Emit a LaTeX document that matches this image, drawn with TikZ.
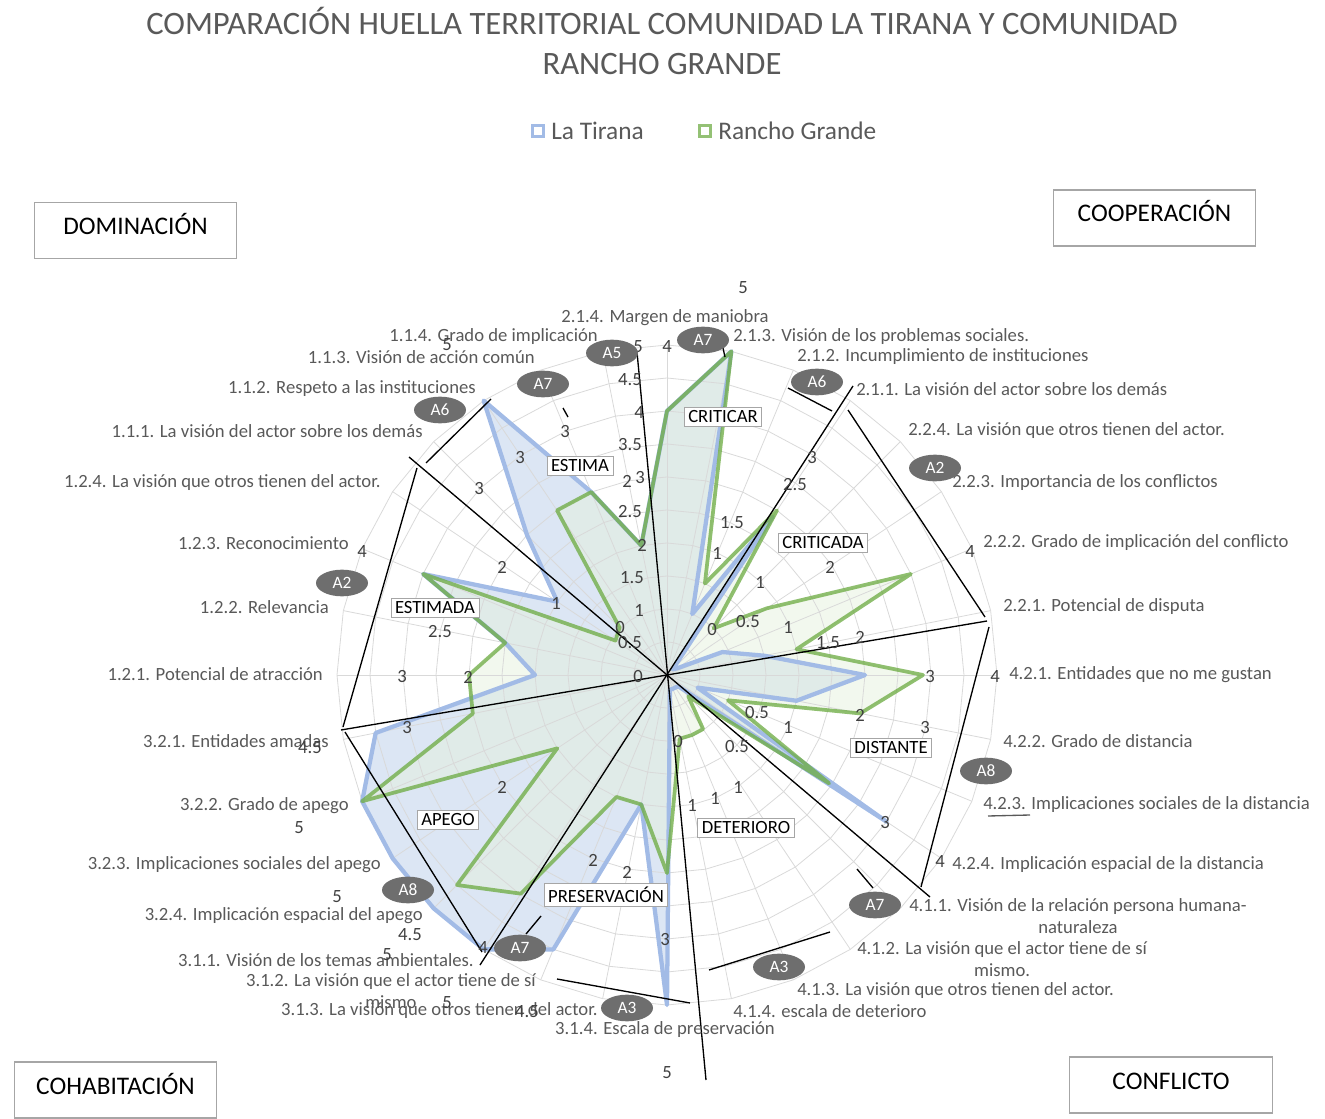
\documentclass[tikz,border=0pt]{standalone}
\usepackage{fontspec}
\setmainfont{Carlito}
\usetikzlibrary{shapes.geometric}
\definecolor{txtgray}{HTML}{595959}
\definecolor{numgray}{HTML}{404040}
\definecolor{gridgray}{HTML}{D9D9D9}
\definecolor{boxgray}{HTML}{A6A6A6}
\definecolor{tirana}{HTML}{A2BBE6}
\definecolor{tiranafill}{HTML}{DCE6F4}
\definecolor{rancho}{HTML}{70AD47}
\definecolor{ranchofill}{HTML}{E5F1DD}
\definecolor{ovalgray}{HTML}{6E6E6E}
\begin{document}
\begin{tikzpicture}[x=0.75pt,y=-0.75pt,font=\fontsize{14}{16.5}\selectfont,
	catlab/.style={text=txtgray,inner sep=0pt},
	numlab/.style={text=numgray,inner sep=0pt},
	quadbox/.style={draw=boxgray,line width=0.8pt,minimum width=152pt,minimum height=42pt,text height=12pt,text depth=6pt,font=\fontsize{19}{22}\selectfont},
	tagbox/.style={draw=boxgray,fill=white,line width=0.6pt,inner xsep=3pt,inner ysep=2.5pt},
	ovaltag/.style={ellipse,fill=ovalgray,text=white,minimum width=39pt,minimum height=20pt,inner sep=0pt,font=\fontsize{13}{15}\selectfont},
	frame/.style={black,line width=1pt},
	grid/.style={gridgray,line width=0.6pt}]
\useasboundingbox (0,0) rectangle (1325,1119);
\def\tiranadata{264,330,66,190,8,12,60,99,198,132,33,264,16,15,15,15,330,132,297,330,330,330,330,297,132,165,264,132,198,330,198,132}
\def\ranchodata{264,330,99,198,66,120,264,132,256,197,66,195,30,65,65,65,198,132,132,263,297,132,330,198,198,165,264,62,67,198,198,132}
% title and legend
\node[text=txtgray,font=\fontsize{24.5}{30}\selectfont,align=center] (title) at (662,41) {COMPARACIÓN HUELLA TERRITORIAL COMUNIDAD LA TIRANA Y COMUNIDAD\\RANCHO GRANDE};
\node[draw=tirana,line width=2.2pt,minimum size=8.5pt,inner sep=0pt] (sqT) at (538,131) {};
\node[text=txtgray,font=\fontsize{19}{22}\selectfont,anchor=west,inner sep=0pt] (legT) at (551,131) {La Tirana};
\node[draw=rancho!75,line width=2.2pt,minimum size=8.5pt,inner sep=0pt] (sqR) at (705,131) {};
\node[text=txtgray,font=\fontsize{19}{22}\selectfont,anchor=west,inner sep=0pt] (legR) at (718,131) {Rancho Grande};
% radar
\begin{scope}[shift={(667,675)}]
	\fill[tiranafill] (-90:264) \foreach \r [count=\k from 0] in \tiranadata { -- ({-90+11.25*\k}:\r) } -- cycle;
	\fill[ranchofill,fill opacity=0.5] (-90:264) \foreach \r [count=\k from 0] in \ranchodata { -- ({-90+11.25*\k}:\r) } -- cycle;
	\foreach \k in {1,...,10}
		\draw[grid] (-90:33*\k) \foreach \a in {1,...,31}{ -- ({-90+11.25*\a}:33*\k) } -- cycle;
	\foreach \a in {0,...,31}
		\draw[grid] (0,0) -- ({-90+11.25*\a}:330);
	\draw[tirana,line width=3.2pt,line join=round] (-90:264) \foreach \r [count=\k from 0] in \tiranadata { -- ({-90+11.25*\k}:\r) } -- cycle;
	\draw[rancho,draw opacity=0.78,line width=2.8pt,line join=round] (-90:264) \foreach \r [count=\k from 0] in \ranchodata { -- ({-90+11.25*\k}:\r) } -- cycle;
\end{scope}
% hand drawn lines
\draw[frame] (637,352) -- (706,1080);
\draw[frame] (341,730) -- (987,621);
\draw[frame] (409,457) -- (930,897);
\draw[frame] (853,386) -- (480,965);
\draw[frame] (491,399) -- (426,463);
\draw[frame] (417,468) -- (343,727);
\draw[frame] (345,732) -- (482,952);
\draw[frame] (541,916) -- (526,934);
\draw[frame] (557,979) -- (690,1003);
\draw[frame] (709,970) -- (830,932);
\draw[frame] (857,869) -- (873,888);
\draw[frame] (989,627) -- (921,887);
\draw[frame] (848,410) -- (985,617);
\draw[frame] (788,388) -- (832,411);
\draw[frame] (563,408) -- (568,417);
\draw[frame] (723,348) -- (725,357);
\draw[txtgray,line width=1pt] (988,816) -- (1030,815);
% category labels
\node[catlab] (c214) at (665,318) {2.1.4. Margen de maniobra};
\node[catlab] (c314) at (665,1030) {3.1.4. Escala de preservación};
\foreach \x/\y/\t [count=\i] in {733/337/2.1.3. Visión de los problemas sociales.,797/357/2.1.2. Incumplimiento de instituciones,856/389/2.1.1. La visión del actor sobre los demás,908/431/2.2.4. La visión que otros tienen del actor.,952/483/2.2.3. Importancia de los conflictos,983/543/2.2.2. Grado de implicación del conflicto,1003/607/2.2.1. Potencial de disputa,1009/675/4.2.1. Entidades que no me gustan,1003/741/4.2.2. Grado de distancia,983/805/4.2.3. Implicaciones sociales de la distancia,952/865/4.2.4. Implicación espacial de la distancia,797/991/4.1.3. La visión que otros tienen del actor.,733/1011/4.1.4. escala de deterioro}
	\node[catlab,anchor=west] (cr\i) at (\x,\y) {\t};
\node[catlab,anchor=west,align=center] (c411) at (909,916) {4.1.1. Visión de la relación persona humana-\\naturaleza};
\node[catlab,anchor=west,align=center] (c412) at (857,959) {4.1.2. La visión que el actor tiene de sí\\mismo.};
\foreach \x/\y/\t [count=\i] in {598/1011/3.1.3. La visión que otros tienen del actor.,474/960/3.1.1. Visión de los temas ambientales.,423/916/3.2.4. Implicación espacial del apego,381/865/3.2.3. Implicaciones sociales del apego,349/806/3.2.2. Grado de apego,329/741/3.2.1. Entidades amadas,323/674/1.2.1. Potencial de atracción,329/607/1.2.2. Relevancia,349/543/1.2.3. Reconocimiento,381/483/1.2.4. La visión que otros tienen del actor.,423/431/1.1.1. La visión del actor sobre los demás,476/389/1.1.2. Respeto a las instituciones,535/357/1.1.3. Visión de acción común,598/337/1.1.4. Grado de implicación}
	\node[catlab,anchor=east] (cl\i) at (\x,\y) {\t};
\node[catlab,anchor=east,align=center] (c312) at (536,991) {3.1.2. La visión que el actor tiene de sí\\mismo};
% axis numbers
\foreach \x/\y/\t [count=\i] in {638/347/5,630/380/4.5,639/413/4,630/445/3.5,627/481/2,640/478/3,630/512/2.5,642/545/2,632/578/1.5,639/610/1,620/628/0,630/643/0.5,
	743/288/5,667/347/4,447/345/5,565/432/3,520/458/3,479/489/3,502/567/2,362/552/4,556/603/1,440/632/2.5,402/677/3,468/677/2,407/728/3,502/787/2,638/677/0,
	310/748/4.5,299/828/5,337/897/5,410/935/4.5,387/955/5,447/1003/5,527/1012/4.5,593/860/2,627/872/2,665/940/3,667/1073/5,483/948/4,
	812/458/3,795/485/2.5,732/523/1.5,717/553/1,830/567/2,970/552/4,760/582/1,712/630/0,748/622/0.5,788/627/1,828/643/1.5,860/637/2,930/677/3,995/677/4,
	757/713/0.5,788/727/1,860/715/2,925/728/3,678/742/0,737/747/0.5,738/787/1,715/798/1,692/805/1,885/823/3,940/862/4}
	\node[numlab] (n\i) at (\x,\y) {\t};
% section tags
\node[tagbox] (estima) at (580,466) {ESTIMA};
\node[tagbox] (criticar) at (723,417) {CRITICAR};
\node[tagbox] (criticada) at (823,543) {CRITICADA};
\node[tagbox] (estimada) at (435,608) {ESTIMADA};
\node[tagbox] (distante) at (891,748) {DISTANTE};
\node[tagbox] (apego) at (448,820) {APEGO};
\node[tagbox] (deterioro) at (746,828) {DETERIORO};
\node[tagbox] (preserv) at (606,895) {PRESERVACIÓN};
% actor ovals
\foreach \x/\y/\t [count=\i] in {612/353/A5,543/384/A7,440/410/A6,703/340/A7,817/382/A6,935/468/A2,342/583/A2,986/771/A8,875/905/A7,779/967/A3,627/1008/A3,520/948/A7,408/890/A8}
	\node[ovaltag] (o\i) at (\x,\y) {\t};
% quadrant boxes
\node[quadbox] (dom) at (135.5,230.5) {DOMINACIÓN};
\node[quadbox] (coop) at (1154.5,218) {COOPERACIÓN};
\node[quadbox] (cohab) at (115.5,1090) {COHABITACIÓN};
\node[quadbox] (confl) at (1171,1085) {CONFLICTO};
\end{tikzpicture}
\end{document}
